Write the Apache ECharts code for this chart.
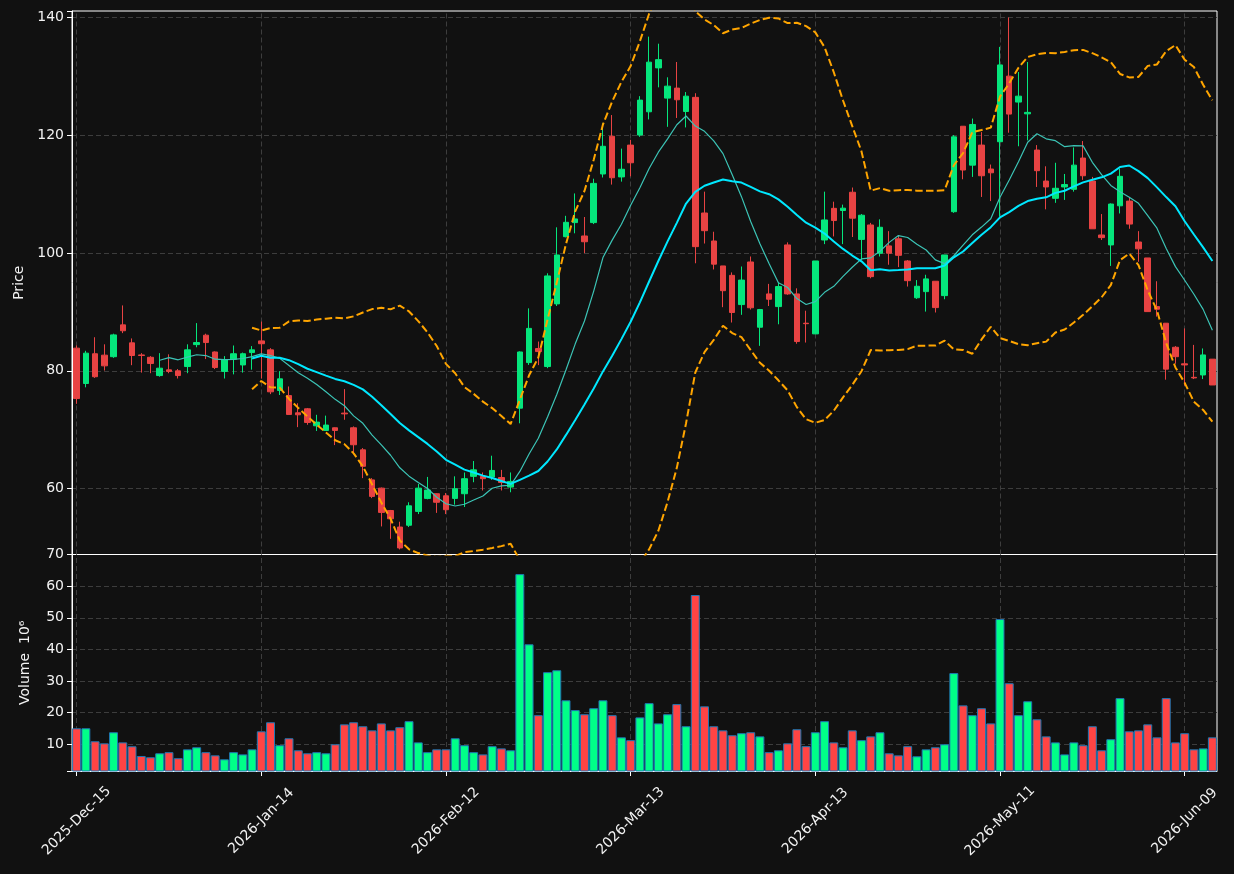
<!DOCTYPE html>
<html><head><meta charset="utf-8">
<script src="https://cdn.jsdelivr.net/npm/echarts@6/dist/echarts.min.js"></script>
<style>html,body{margin:0;padding:0;background:#111111;}#c{width:1234px;height:874px;}</style>
</head><body><div id="c"></div>
<script>
const dates = [
"2025-Dec-15","2025-Dec-16","2025-Dec-17","2025-Dec-18","2025-Dec-19","2025-Dec-22","2025-Dec-23","2025-Dec-24","2025-Dec-26","2025-Dec-29",
"2025-Dec-30","2025-Dec-31","2026-Jan-02","2026-Jan-05","2026-Jan-06","2026-Jan-07","2026-Jan-08","2026-Jan-09","2026-Jan-12","2026-Jan-13",
"2026-Jan-14","2026-Jan-15","2026-Jan-16","2026-Jan-20","2026-Jan-21","2026-Jan-22","2026-Jan-23","2026-Jan-26","2026-Jan-27","2026-Jan-28",
"2026-Jan-29","2026-Jan-30","2026-Feb-02","2026-Feb-03","2026-Feb-04","2026-Feb-05","2026-Feb-06","2026-Feb-09","2026-Feb-10","2026-Feb-11",
"2026-Feb-12","2026-Feb-13","2026-Feb-17","2026-Feb-18","2026-Feb-19","2026-Feb-20","2026-Feb-23","2026-Feb-24","2026-Feb-25","2026-Feb-26",
"2026-Feb-27","2026-Mar-02","2026-Mar-03","2026-Mar-04","2026-Mar-05","2026-Mar-06","2026-Mar-09","2026-Mar-10","2026-Mar-11","2026-Mar-12",
"2026-Mar-13","2026-Mar-16","2026-Mar-17","2026-Mar-18","2026-Mar-19","2026-Mar-20","2026-Mar-23","2026-Mar-24","2026-Mar-25","2026-Mar-26",
"2026-Mar-27","2026-Mar-30","2026-Mar-31","2026-Apr-01","2026-Apr-02","2026-Apr-06","2026-Apr-07","2026-Apr-08","2026-Apr-09","2026-Apr-10",
"2026-Apr-13","2026-Apr-14","2026-Apr-15","2026-Apr-16","2026-Apr-17","2026-Apr-20","2026-Apr-21","2026-Apr-22","2026-Apr-23","2026-Apr-24",
"2026-Apr-27","2026-Apr-28","2026-Apr-29","2026-Apr-30","2026-May-01","2026-May-04","2026-May-05","2026-May-06","2026-May-07","2026-May-08",
"2026-May-11","2026-May-12","2026-May-13","2026-May-14","2026-May-15","2026-May-18","2026-May-19","2026-May-20","2026-May-21","2026-May-22",
"2026-May-26","2026-May-27","2026-May-28","2026-May-29","2026-Jun-01","2026-Jun-02","2026-Jun-03","2026-Jun-04","2026-Jun-05","2026-Jun-08",
"2026-Jun-09","2026-Jun-10","2026-Jun-11","2026-Jun-12"];

const openP = [83.85,77.85,82.9,82.66,82.4,87.8,84.75,82.7,82.3,79.2,
80.17,80.0,80.73,84.45,86.05,83.2,79.9,81.96,81.0,83.1,
85.08,83.56,76.67,75.8,72.88,73.56,70.68,69.89,70.34,72.83,
70.34,66.6,61.5,60.1,56.3,53.5,53.8,56.15,58.36,59.15,
58.8,58.36,59.15,62.1,62.1,61.98,61.9,60.28,73.67,81.4,
83.78,80.73,91.36,102.76,105.15,102.88,105.15,113.4,119.8,112.9,
118.3,120.0,123.95,131.4,126.27,127.97,124.0,126.4,106.78,102.03,
97.8,96.2,91.24,98.47,87.4,93.05,90.9,101.36,93.05,88.08,
86.27,102.2,107.57,107.2,110.3,102.3,104.75,99.95,101.2,102.4,
98.64,92.4,93.44,95.2,92.76,107.0,121.5,114.9,118.3,114.24,
118.87,130.0,125.6,123.6,117.46,112.2,109.27,111.2,110.8,116.1,
112.2,103.05,101.36,108.0,108.8,101.86,99.15,90.9,88.08,84.0,
81.19,78.9,79.3,81.98];

const highP = [84.3,83.4,85.7,84.5,86.3,91.1,85.5,83.0,82.5,83.0,
82.8,80.3,84.5,88.1,86.3,83.3,82.5,84.3,83.1,84.2,
88.36,83.85,79.95,77.35,74.5,73.7,72.54,72.4,70.4,76.9,
70.57,66.9,61.8,60.2,56.4,54.4,57.7,60.8,62.0,59.2,
59.27,62.1,62.76,64.7,62.76,65.6,63.2,62.76,83.3,90.6,
84.97,96.55,104.35,106.3,110.1,106.1,112.6,122.0,123.4,117.7,
119.2,126.6,136.7,135.5,129.8,132.4,127.3,127.1,110.4,103.6,
97.8,96.7,97.7,99.4,90.5,94.75,95.0,101.8,94.0,90.2,
98.64,110.4,108.7,108.2,111.1,106.6,105.1,105.7,103.7,102.9,
98.8,95.4,96.3,95.2,99.66,120.0,121.5,122.8,120.5,115.0,
134.96,139.95,130.7,132.4,118.3,114.7,115.3,113.4,117.9,118.99,
112.9,106.6,108.4,114.3,109.4,103.7,99.15,95.2,88.08,84.2,
87.2,84.4,83.8,81.98];

const lowP = [74.4,77.2,78.8,80.05,82.2,86.4,80.96,79.7,79.6,79.0,
79.6,78.7,79.6,84.0,82.0,80.3,78.7,79.4,79.7,80.2,
78.7,76.05,75.9,72.6,70.45,70.85,69.8,69.85,67.4,71.7,
65.93,61.8,58.4,53.6,51.5,49.7,53.5,55.7,58.2,55.9,
55.7,57.3,56.9,61.1,59.7,61.5,59.7,59.4,71.1,81.0,
80.97,80.45,91.0,102.65,103.33,99.97,104.9,112.8,111.6,112.1,
113.0,119.7,122.65,128.1,121.4,122.9,121.3,98.25,101.6,97.2,
90.8,88.2,89.5,90.4,84.24,91.0,87.9,92.9,84.6,84.8,
86.27,101.5,102.8,101.5,102.7,98.8,95.7,99.4,98.0,97.6,
94.3,92.2,90.05,89.9,92.15,106.8,112.5,112.9,109.5,108.8,
106.15,120.4,118.1,119.1,111.2,107.4,108.5,109.0,110.4,112.4,
104.1,102.2,97.8,106.7,104.1,98.5,90.05,89.2,78.5,81.2,
77.5,78.6,78.6,77.6];

const closeP = [75.3,83.0,79.0,80.85,86.1,86.8,82.6,82.6,81.24,80.45,
79.9,79.2,83.56,84.8,84.8,80.56,81.9,82.9,82.9,83.56,
84.6,76.44,78.64,72.6,72.54,71.24,71.3,70.8,69.89,72.7,
67.46,63.8,58.7,55.98,54.9,49.95,57.1,60.1,59.77,57.7,
56.44,60.0,61.7,63.2,61.7,63.1,61.07,61.24,83.2,87.2,
83.27,96.1,99.66,105.2,105.77,101.9,111.8,118.1,112.76,114.2,
115.3,125.93,132.37,132.8,128.3,125.99,126.6,101.07,103.78,98.1,
93.6,89.9,95.4,90.7,90.4,92.15,94.3,93.05,84.97,88.0,
98.64,105.6,105.5,107.6,105.9,106.4,95.98,104.36,99.95,99.6,
95.3,94.35,95.6,90.73,99.66,119.7,114.07,121.8,113.1,113.6,
131.9,123.56,126.6,123.85,113.96,111.2,110.97,111.6,114.9,113.1,
104.1,102.6,108.3,113.0,104.9,100.7,90.05,90.45,80.29,82.4,
81.0,78.8,82.7,77.6];

// volume in millions
const volume = [15.06,15.06,10.95,10.3,13.8,10.6,9.37,6.3,5.9,7.15,
7.5,5.6,8.4,9.05,7.5,6.5,5.25,7.5,6.8,8.4,
14.1,16.96,9.7,11.9,8.1,7.15,7.5,7.15,10.0,16.3,
16.96,15.7,14.4,16.6,14.4,15.4,17.3,10.6,7.5,8.4,
8.4,11.9,9.7,7.5,6.8,9.4,8.7,8.1,63.8,41.6,
19.2,32.8,33.4,23.9,20.8,19.5,21.4,23.9,19.2,12.2,
11.3,18.5,23.0,16.6,19.5,22.7,15.7,57.2,22.0,15.7,
14.4,12.85,13.5,13.8,12.5,7.5,8.1,10.3,14.75,9.4,
13.8,17.3,10.6,9.05,14.4,11.3,12.5,13.8,7.15,6.5,
9.4,6.2,8.4,9.05,10.0,32.5,22.3,19.2,21.4,16.6,
49.6,29.3,19.2,23.6,17.9,12.5,10.6,6.8,10.6,9.7,
15.7,8.1,11.6,24.6,14.1,14.4,16.3,12.2,24.6,10.6,
13.5,8.4,8.7,12.2];

const tickDates = ["2025-Dec-15","2026-Jan-14","2026-Feb-12","2026-Mar-13","2026-Apr-13","2026-May-11","2026-Jun-09"];

// indicators derived from the close prices (rolling mean / std)
function rolling(arr, n, fn) {
  return arr.map((_, i) => i < n - 1 ? '-' : fn(arr.slice(i - n + 1, i + 1)));
}
const mean = a => a.reduce((s, v) => s + v, 0) / a.length;
const std = a => { const m = mean(a); return Math.sqrt(a.reduce((s, v) => s + (v - m) * (v - m), 0) / a.length); };
const ma10 = rolling(closeP, 10, mean);
const ma20 = rolling(closeP, 20, mean);
const bbUpper = rolling(closeP, 20, a => mean(a) + 2 * std(a));
const bbLower = rolling(closeP, 20, a => mean(a) - 2 * std(a));

const UP = '#00ff88', DOWN = '#ff4444';
const CUP = '#05e67c', CDOWN = '#e84343';
const TXT = '#f2f2f2';
const GRIDC = '#3d3d3d';
const FONT = 'DejaVu Sans';

const candleData = dates.map((d, i) => [openP[i], closeP[i], lowP[i], highP[i]]);
const volData = volume.map((v, i) => ({
  value: v,
  itemStyle: { color: closeP[i] >= openP[i] ? UP : DOWN }
}));
const empty = dates.map(() => '-');
const vGrid = (xi, yi) => ({
  type: 'line', xAxisIndex: xi, yAxisIndex: yi, data: empty, z: 1, silent: true,
  showSymbol: false, lineStyle: { opacity: 0 },
  markLine: {
    silent: true, z: 1, symbol: ['none', 'none'], animation: false,
    label: { show: false },
    lineStyle: { color: GRIDC, type: [5, 3], width: 1 },
    data: tickDates.map(d => ({ xAxis: d }))
  }
});
const tickInt = (idx) => idx % 20 === 0;

const chart = echarts.init(document.getElementById('c'), null, { renderer: 'canvas' });
chart.setOption({
  backgroundColor: '#111111',
  animation: false,
  textStyle: { fontFamily: FONT },
  grid: [
    { left: 72, top: 11, width: 1145, height: 543.5, show: true, borderColor: '#ffffff', borderWidth: 1, backgroundColor: 'transparent' },
    { left: 72, top: 554.5, width: 1145, height: 216.5, show: true, borderColor: '#ffffff', borderWidth: 1, backgroundColor: 'transparent' }
  ],
  xAxis: [
    { type: 'category', gridIndex: 0, data: dates, boundaryGap: true,
      axisLine: { show: true, lineStyle: { color: '#ffffff' } }, axisTick: { show: false }, axisLabel: { show: false }, splitLine: { show: false } },
    { type: 'category', gridIndex: 1, data: dates, boundaryGap: true,
      axisLine: { show: true, lineStyle: { color: '#ffffff' } },
      axisTick: { show: true, interval: tickInt, alignWithLabel: true, length: 5, lineStyle: { color: '#ffffff' } },
      axisLabel: { show: true, interval: tickInt, rotate: 45, align: 'center', verticalAlign: 'middle', margin: 50,
        color: TXT, fontSize: 14, fontFamily: FONT },
      splitLine: { show: false } }
  ],
  yAxis: [
    { type: 'value', gridIndex: 0, min: 48.84, max: 141.05, splitNumber: 5,
      name: 'Price', nameLocation: 'middle', nameGap: 46, nameRotate: 90,
      nameTextStyle: { color: TXT, fontSize: 14, fontFamily: FONT },
      axisLine: { show: true, lineStyle: { color: '#ffffff' } },
      axisTick: { show: true, length: 5, lineStyle: { color: '#ffffff' } },
      axisLabel: { color: TXT, fontSize: 14, fontFamily: FONT, margin: 8,
        formatter: v => (Math.abs(v % 20) < 1e-6 ? String(v) : '') },
      splitLine: { show: true, showMinLine: false, showMaxLine: false, lineStyle: { color: GRIDC, type: [5, 3], width: 1 } } },
    { type: 'value', gridIndex: 1, min: 1.55, max: 70, splitNumber: 7,
      name: 'Volume  10\u2076', nameLocation: 'middle', nameGap: 40, nameRotate: 90,
      nameTextStyle: { color: TXT, fontSize: 14, fontFamily: FONT },
      axisLine: { show: true, lineStyle: { color: '#ffffff' } },
      axisTick: { show: true, length: 5, lineStyle: { color: '#ffffff' } },
      axisLabel: { color: TXT, fontSize: 14, fontFamily: FONT, margin: 8,
        formatter: v => (Math.abs(v % 10) < 1e-6 ? String(v) : '') },
      splitLine: { show: true, showMinLine: false, showMaxLine: false, lineStyle: { color: GRIDC, type: [5, 3], width: 1 } } }
  ],
  series: [
    vGrid(0, 0),
    vGrid(1, 1),
    { type: 'candlestick', xAxisIndex: 0, yAxisIndex: 0, data: candleData, barWidth: 6, z: 3,
      itemStyle: { color: CUP, color0: CDOWN, borderColor: CUP, borderColor0: CDOWN, borderWidth: 1 } },
    { type: 'bar', xAxisIndex: 1, yAxisIndex: 1, data: volData, barCategoryGap: '3%', z: 3,
      itemStyle: { borderColor: '#1f77b4', borderWidth: 1 } },
    { type: 'line', name: 'MA10', xAxisIndex: 0, yAxisIndex: 0, data: ma10, showSymbol: false, symbol: 'none', z: 4,
      lineStyle: { color: '#3cc4b6', width: 1.2 } },
    { type: 'line', name: 'MA20', xAxisIndex: 0, yAxisIndex: 0, data: ma20, showSymbol: false, symbol: 'none', z: 4,
      lineStyle: { color: '#00e8ff', width: 2 } },
    { type: 'line', name: 'BB upper', xAxisIndex: 0, yAxisIndex: 0, data: bbUpper, showSymbol: false, symbol: 'none', z: 4,
      lineStyle: { color: '#ffa500', width: 2, type: [7.5, 3.3] } },
    { type: 'line', name: 'BB lower', xAxisIndex: 0, yAxisIndex: 0, data: bbLower, showSymbol: false, symbol: 'none', z: 4,
      lineStyle: { color: '#ffa500', width: 2, type: [7.5, 3.3] } }
  ]
});
</script>
</body></html>
